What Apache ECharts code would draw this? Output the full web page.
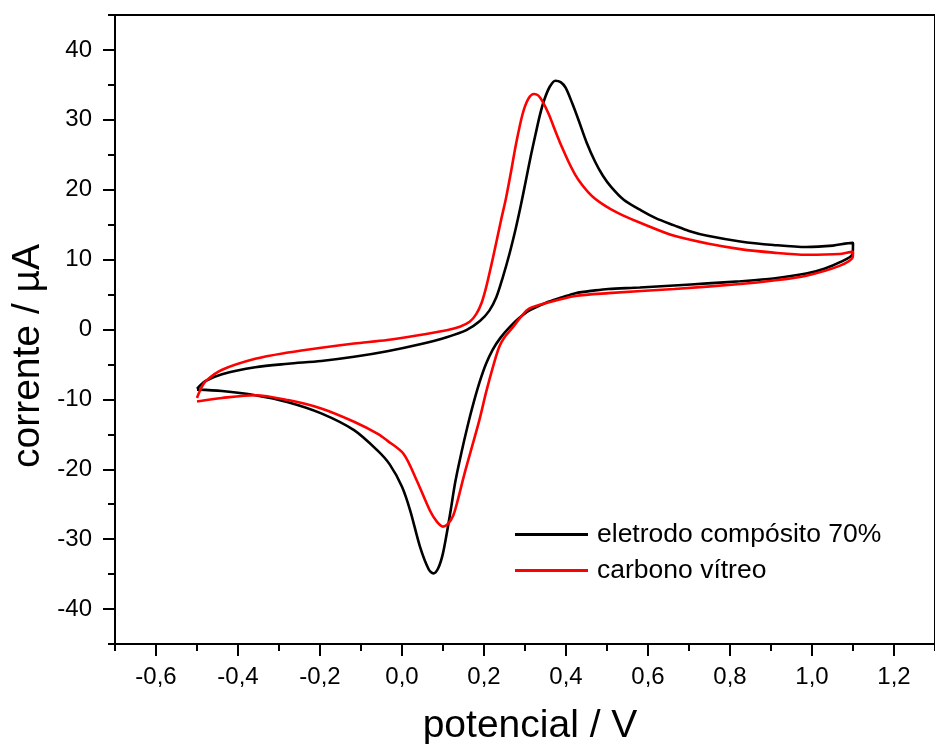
<!DOCTYPE html>
<html>
<head>
<meta charset="utf-8">
<script src="https://cdn.jsdelivr.net/npm/echarts@6/dist/echarts.min.js"></script>
<style>
html,body{margin:0;padding:0;background:#fff;}
#c{width:935px;height:744px;}
</style>
</head>
<body>
<div id="c"></div>
<script>
// ---- data (potential in V, current in µA), in scan order ----
const blackV = [-0.5,-0.48,-0.439,-0.358,-0.278,-0.197,-0.117,-0.036,0.044,0.109,0.157,0.19,0.213,0.23,0.246,0.262,0.278,0.29,0.302,0.314,0.326,0.336,0.346,0.36,0.374,0.387,0.399,0.415,0.431,0.45,0.471,0.49,0.51,0.54,0.584,0.62,0.664,0.7,0.745,0.825,0.906,0.986,1.051,1.099,1.1,
  1.099,1.067,1.03,0.986,0.906,0.825,0.745,0.664,0.58,0.503,0.471,0.423,0.391,0.35,0.31,0.285,0.262,0.24,0.221,0.205,0.19,0.175,0.16,0.145,0.13,0.117,0.1,0.088,0.0765,0.065,0.044,0.02,0.0,-0.03,-0.06,-0.117,-0.197,-0.278,-0.358,-0.439,-0.5];
const blackI = [-8.5,-7.4,-6.4,-5.4,-4.9,-4.5,-3.9,-3.1,-2.1,-1.1,-0.1,1.2,2.7,4.6,7.5,10.8,14.6,17.8,21.3,24.8,28.0,30.6,32.7,34.7,35.6,35.4,34.6,32.4,29.9,26.8,24.0,22.0,20.4,18.6,17.0,15.9,14.9,14.1,13.4,12.6,12.1,11.8,12.0,12.4,12.3,
  10.8,9.6,8.7,8.0,7.3,6.9,6.6,6.3,6.0,5.8,5.6,5.2,4.6,3.8,2.7,1.6,0.3,-1.2,-2.9,-4.9,-7.4,-10.4,-13.8,-17.6,-21.8,-26.5,-32.0,-34.2,-34.9,-34.3,-31.1,-25.9,-22.5,-19.3,-17.3,-14.4,-12.0,-10.4,-9.4,-8.8,-8.6];
const redV = [-0.5,-0.49,-0.479,-0.44,-0.358,-0.278,-0.197,-0.117,-0.036,0.036,0.109,0.141,0.165,0.181,0.194,0.205,0.217,0.229,0.241,0.254,0.266,0.278,0.294,0.308,0.322,0.332,0.342,0.358,0.374,0.39,0.407,0.423,0.439,0.455,0.471,0.49,0.51,0.54,0.584,0.664,0.745,0.825,0.906,0.986,1.067,1.099,1.1,
  1.099,1.067,0.986,0.906,0.825,0.664,0.503,0.423,0.358,0.31,0.29,0.27,0.25,0.237,0.222,0.205,0.189,0.173,0.16,0.149,0.137,0.125,0.112,0.1,0.085,0.068,0.036,0.004,-0.036,-0.06,-0.117,-0.197,-0.278,-0.358,-0.439,-0.5];
const redI = [-9.8,-8.4,-7.4,-5.8,-4.2,-3.3,-2.6,-2.0,-1.5,-0.86,-0.1,0.4,1.1,2.2,3.8,6.0,9.0,12.2,15.5,18.9,22.6,26.5,30.8,33.0,33.7,33.5,32.7,30.8,28.4,26.1,23.9,22.1,20.7,19.6,18.7,17.9,17.2,16.3,15.2,13.4,12.3,11.5,11.0,10.7,10.8,11.1,11.0,
  10.3,9.1,7.7,7.0,6.5,5.8,5.2,4.8,3.9,3.0,1.8,0.3,-1.1,-2.5,-5.3,-9.0,-12.9,-16.3,-19.0,-21.4,-24.2,-26.6,-27.8,-28.2,-27.5,-25.9,-21.6,-17.8,-15.9,-14.9,-13.2,-11.3,-10.1,-9.4,-9.8,-10.3];
const seriesNames = ['eletrodo compósito 70%', 'carbono vítreo'];
const xMajorTicks = [-0.6,-0.4,-0.2,0.0,0.2,0.4,0.6,0.8,1.0,1.2];
const xMinorTicks = [-0.7,-0.5,-0.3,-0.1,0.1,0.3,0.5,0.7,0.9,1.1,1.3];
const yMajorTicks = [-40,-30,-20,-10,0,10,20,30,40];
const yMinorTicks = [-45,-35,-25,-15,-5,5,15,25,35,45];
const xTitle = 'potencial / V';
const yTitle = 'corrente / µA';

const zip = (a, b) => a.map((v, i) => [v, b[i]]);
const FONT = 'Liberation Sans, Arial, sans-serif';
const chart = echarts.init(document.getElementById('c'), null, {renderer: 'canvas'});

const xBase = {type: 'value', min: -0.7, max: 1.3, gridIndex: 0, splitLine: {show: false}};
const yBase = {type: 'value', min: -45, max: 45, gridIndex: 0, splitLine: {show: false}};
const lineAx = {lineStyle: {color: '#000', width: 2}};

chart.setOption({
  animation: false,
  backgroundColor: '#fff',
  grid: {left: 115, right: -8, top: 15, bottom: 100, containLabel: false},
  xAxis: [
    Object.assign({}, xBase, {
      position: 'bottom', axisLine: Object.assign({show: true, onZero: false}, lineAx),
      axisTick: {show: true, customValues: xMajorTicks, length: 12, lineStyle: {color: '#000', width: 2}},
      axisLabel: {show: true, customValues: xMajorTicks, margin: 21, color: '#000', fontSize: 24, fontFamily: FONT,
        formatter: v => v.toFixed(1).replace('.', ',')}
    }),
    Object.assign({}, xBase, {
      position: 'bottom', axisLine: {show: false, onZero: false},
      axisTick: {show: true, customValues: xMinorTicks, length: 7, lineStyle: {color: '#000', width: 2}},
      axisLabel: {show: false}
    }),
    Object.assign({}, xBase, {
      position: 'top', axisLine: Object.assign({show: true, onZero: false}, lineAx),
      axisTick: {show: false}, axisLabel: {show: false}
    })
  ],
  yAxis: [
    Object.assign({}, yBase, {
      position: 'left', axisLine: Object.assign({show: true, onZero: false}, lineAx),
      axisTick: {show: true, customValues: yMajorTicks, length: 12, lineStyle: {color: '#000', width: 2}},
      axisLabel: {show: true, customValues: yMajorTicks, margin: 23, color: '#000', fontSize: 24, fontFamily: FONT}
    }),
    Object.assign({}, yBase, {
      position: 'left', axisLine: {show: false, onZero: false},
      axisTick: {show: true, customValues: yMinorTicks, length: 7, lineStyle: {color: '#000', width: 2}},
      axisLabel: {show: false}
    }),
    Object.assign({}, yBase, {
      position: 'right', axisLine: Object.assign({show: true, onZero: false}, lineAx),
      axisTick: {show: false}, axisLabel: {show: false}
    })
  ],
  legend: {
    orient: 'vertical', left: 515, top: 521, padding: 0,
    icon: 'rect', itemWidth: 73, itemHeight: 3, itemGap: 9,
    textStyle: {fontSize: 26.5, fontFamily: FONT, color: '#000', lineHeight: 25, padding: [0, 0, 0, 4]},
    data: seriesNames
  },
  series: [
    {name: seriesNames[0], type: 'line', data: zip(blackV, blackI), showSymbol: false, smooth: 0.3,
      lineStyle: {color: '#000', width: 2.6}, itemStyle: {color: '#000'}, z: 3},
    {name: seriesNames[1], type: 'line', data: zip(redV, redI), showSymbol: false, smooth: 0.3,
      lineStyle: {color: '#ff0000', width: 2.6}, itemStyle: {color: '#ff0000'}, z: 4}
  ],
  graphic: [
    {type: 'text', x: 530, y: 726, style: {text: xTitle, font: '39px ' + FONT, fill: '#000', align: 'center', verticalAlign: 'middle'}},
    {type: 'text', x: 28, y: 356, rotation: Math.PI / 2, style: {text: yTitle, font: '39px ' + FONT, fill: '#000', align: 'center', verticalAlign: 'middle'}}
  ]
});
</script>
</body>
</html>
